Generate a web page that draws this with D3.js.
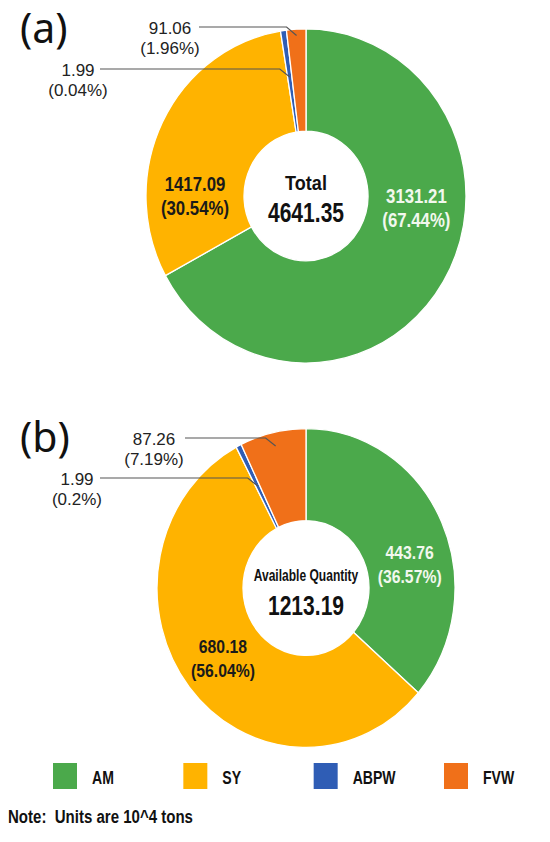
<!DOCTYPE html>
<html>
<head>
<meta charset="utf-8">
<script src="https://cdn.jsdelivr.net/npm/d3@7"></script>
<style>
  html, body { margin: 0; padding: 0; background: #ffffff; }
  svg { display: block; }
  .narrow { font-family: "Liberation Sans", Arial, sans-serif; font-weight: bold; white-space: pre; }
  .plain { font-family: "Noto Sans", "Open Sans", "DejaVu Sans", sans-serif; }
  .callout { font-family: "Liberation Sans", Arial, sans-serif; }
</style>
</head>
<body>
<svg id="chart" width="550" height="842"></svg>
<script>
// ---------- data ----------
const categories = ["AM", "SY", "ABPW", "FVW"];
const categoryColors = ["#4BA94B", "#FFB300", "#2F5DB5", "#F07019"];

const totalValues = [3131.21, 1417.09, 1.99, 91.06];
const totalPercents = [67.44, 30.54, 0.04, 1.96];

const availableValues = [443.76, 680.18, 1.99, 87.26];
const availablePercents = [36.57, 56.04, 0.2, 7.19];

const panelLetters = ["(a)", "(b)"];
const centerTitles = ["Total", "Available Quantity"];
const centerTotals = ["4641.35", "1213.19"];
const noteText = "Note:  Units are 10^4 tons";

// ---------- layout ----------
const panels = [
  {
    values: totalValues, percents: totalPercents, letter: panelLetters[0],
    title: centerTitles[0], total: centerTotals[0],
    cx: 306, cy: 196, r: 160, ir: 62, sy: 1.044,
    labelAngles: { AM: 96, SY: 270 },
    labelSize: 20, labelSx: 0.84,
    letterY: 43, titleY: 190, titleSize: 21, titleSx: 0.86, totalY: 222,
    callouts: [
      { key: "FVW", lineY: 27, textX: 170, startX: 199 },
      { key: "ABPW", lineY: 69, textX: 78, startX: 100 }
    ]
  },
  {
    values: availableValues, percents: availablePercents, letter: panelLetters[1],
    title: centerTitles[1], total: centerTotals[1],
    cx: 306, cy: 588, r: 149, ir: 63, sy: 1.07,
    labelAngles: { AM: 78 },
    labelSize: 19, labelSx: 0.83,
    letterY: 452, titleY: 581, titleSize: 16.5, titleSx: 0.73, totalY: 615,
    callouts: [
      { key: "FVW", lineY: 438, textX: 154, startX: 185 },
      { key: "ABPW", lineY: 478, textX: 77, startX: 100 }
    ]
  }
];

const svg = d3.select("#chart");
const color = d3.scaleOrdinal().domain(categories).range(categoryColors);
const fmtVal = d3.format(".2f");
const fmtPct = v => d3.format("~")(v) + "%";
const minShare = 0.006;

function narrow(x, y, txt, size, sx, fill, anchor) {
  return svg.append("text").attr("class", "narrow")
    .attr("transform", `translate(${x},${y}) scale(${sx},1)`)
    .attr("text-anchor", anchor || "middle")
    .attr("font-size", size).attr("fill", fill || "#111")
    .text(txt);
}

panels.forEach(p => {
  const rows = categories.map((c, i) => ({ key: c, value: p.values[i], pct: p.percents[i] }));
  const sum = d3.sum(rows, d => d.value);
  const pie = d3.pie().sort(null).value(d => Math.max(d.value, sum * minShare));
  const arcs = pie(rows);
  const arc = d3.arc().innerRadius(p.ir).outerRadius(p.r);

  const pt = (ang, rr) => [p.cx + rr * Math.sin(ang), p.cy - rr * Math.cos(ang) * p.sy];

  const g = svg.append("g").attr("transform", `translate(${p.cx},${p.cy}) scale(1,${p.sy})`);
  g.selectAll("path").data(arcs).join("path")
    .attr("d", arc)
    .attr("fill", d => color(d.data.key))
    .attr("stroke", "#ffffff")
    .attr("stroke-width", 1.3)
    .attr("vector-effect", "non-scaling-stroke");

  // panel letter
  svg.append("text").attr("class", "plain")
    .attr("x", 20).attr("y", p.letterY)
    .attr("font-size", 41).attr("fill", "#111")
    .text(p.letter);

  // center text
  narrow(p.cx, p.titleY, p.title, p.titleSize, p.titleSx, "#111");
  narrow(p.cx, p.totalY, p.total, 27, 0.78, "#111");

  // inside labels for big slices
  const labelR = (p.r + p.ir) / 2;
  arcs.filter(d => d.data.key === "AM" || d.data.key === "SY").forEach(d => {
    const ang = p.labelAngles[d.data.key] != null
      ? p.labelAngles[d.data.key] * Math.PI / 180
      : (d.startAngle + d.endAngle) / 2;
    const [x, y] = pt(ang, labelR);
    const fill = d.data.key === "AM" ? "#F2F8EE" : "#1a1a1a";
    narrow(x, y - 5, fmtVal(d.data.value), p.labelSize, p.labelSx, fill);
    narrow(x, y + 19, "(" + fmtPct(d.data.pct) + ")", p.labelSize, p.labelSx, fill);
  });

  // callouts for small slices
  p.callouts.forEach(c => {
    const d = arcs.find(a => a.data.key === c.key);
    const mid = (d.startAngle + d.endAngle) / 2;
    const endY = c.lineY + 8;
    let rr = (p.cy - endY) / (Math.cos(mid) * p.sy);
    rr = Math.max(p.ir + 6, Math.min(p.r - 6, rr));
    const [ex, ey] = pt(mid, rr);
    const kx = ex - 10;
    svg.append("path")
      .attr("d", d3.line()([[c.startX, c.lineY], [kx, c.lineY], [ex, ey]]))
      .attr("fill", "none").attr("stroke", "#555").attr("stroke-width", 1.2);
    svg.append("text").attr("class", "callout")
      .attr("x", c.textX).attr("y", c.lineY + 7)
      .attr("text-anchor", "middle").attr("font-size", 17).attr("fill", "#222")
      .text(fmtVal(d.data.value));
    svg.append("text").attr("class", "callout")
      .attr("x", c.textX).attr("y", c.lineY + 27)
      .attr("text-anchor", "middle").attr("font-size", 17).attr("fill", "#222")
      .text("(" + fmtPct(d.data.pct) + ")");
  });
});

// ---------- legend ----------
const legendX = d3.scalePoint().domain(categories).range([53, 444]);
categories.forEach(c => {
  svg.append("rect")
    .attr("x", legendX(c)).attr("y", 763)
    .attr("width", 24).attr("height", 26)
    .attr("fill", color(c));
  narrow(legendX(c) + 39, 784, c, 19, 0.74, "#111", "start");
});

narrow(8, 823, noteText, 18, 0.835, "#111", "start");
</script>
</body>
</html>
